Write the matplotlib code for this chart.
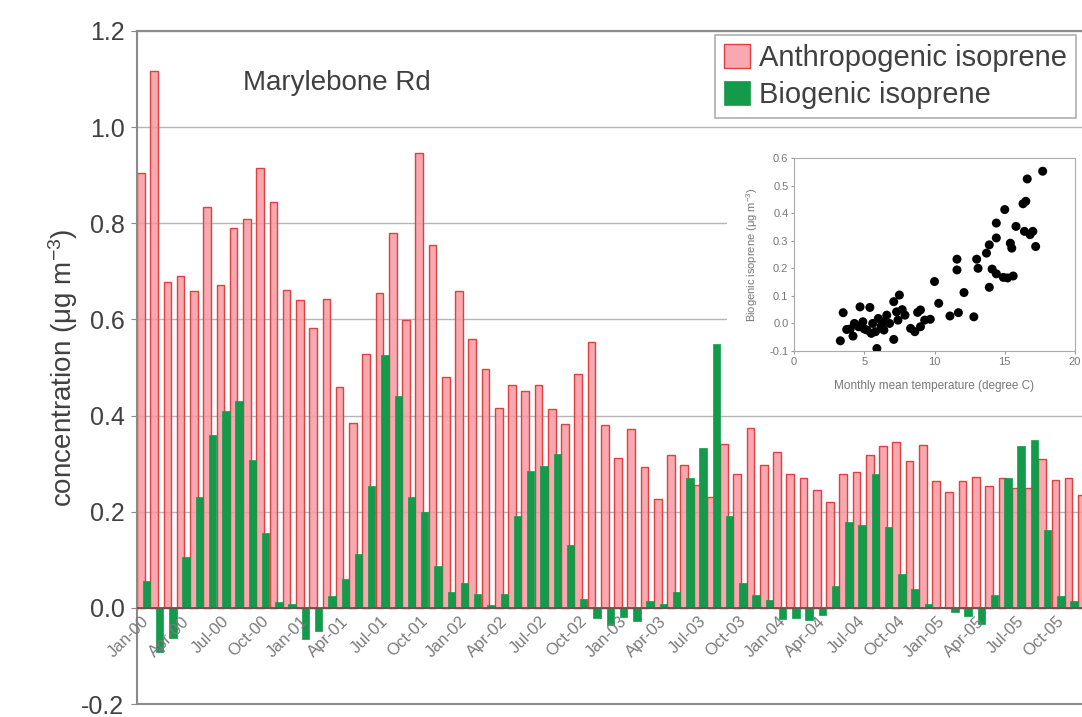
import numpy as np
import matplotlib.pyplot as plt
from matplotlib.patches import Rectangle

plt.rcParams['font.family'] = ['Liberation Sans', 'DejaVu Sans']
plt.rcParams['axes.unicode_minus'] = False
plt.rcParams['mathtext.fontset'] = 'custom'
plt.rcParams['mathtext.rm'] = 'Liberation Sans'
plt.rcParams['mathtext.it'] = 'Liberation Sans:italic'

# monthly values Jan-00 .. Dec-05 (ug m-3)
anthro = [0.905, 1.117, 0.678, 0.690, 0.659, 0.834, 0.671, 0.790, 0.809, 0.915, 0.844, 0.662,
          0.640, 0.583, 0.643, 0.460, 0.384, 0.529, 0.654, 0.780, 0.598, 0.946, 0.755, 0.480,
          0.660, 0.560, 0.496, 0.415, 0.463, 0.451, 0.464, 0.413, 0.382, 0.486, 0.553, 0.380,
          0.311, 0.373, 0.292, 0.227, 0.318, 0.297, 0.255, 0.230, 0.340, 0.278, 0.375, 0.297,
          0.325, 0.278, 0.270, 0.245, 0.221, 0.278, 0.282, 0.318, 0.336, 0.344, 0.306, 0.339,
          0.263, 0.240, 0.263, 0.273, 0.254, 0.270, 0.250, 0.250, 0.310, 0.266, 0.270, 0.235]
biogenic = [0.055, -0.092, -0.062, 0.105, 0.230, 0.360, 0.409, 0.431, 0.308, 0.155, 0.012, 0.008,
            -0.065, -0.049, 0.024, 0.060, 0.112, 0.254, 0.526, 0.440, 0.230, 0.200, 0.088, 0.033,
            0.052, 0.028, 0.005, 0.029, 0.192, 0.285, 0.295, 0.320, 0.131, 0.019, -0.021, -0.035,
            -0.018, -0.027, 0.014, 0.009, 0.033, 0.270, 0.332, 0.548, 0.192, 0.052, 0.027, 0.017,
            -0.024, -0.021, -0.026, -0.014, 0.045, 0.178, 0.172, 0.278, 0.169, 0.071, 0.039, 0.008,
            0.002, -0.009, -0.016, -0.033, 0.027, 0.270, 0.336, 0.349, 0.162, 0.024, 0.014, 0.010]
month_labels = ['Jan-00', 'Apr-00', 'Jul-00', 'Oct-00', 'Jan-01', 'Apr-01', 'Jul-01', 'Oct-01',
                'Jan-02', 'Apr-02', 'Jul-02', 'Oct-02', 'Jan-03', 'Apr-03', 'Jul-03', 'Oct-03',
                'Jan-04', 'Apr-04', 'Jul-04', 'Oct-04', 'Jan-05', 'Apr-05', 'Jul-05', 'Oct-05']

# inset: monthly mean temperature vs biogenic isoprene
temp = [3.3, 3.5, 3.75, 4.2, 4.7, 5.4, 4.3, 4.6, 4.9, 5.2, 5.5, 5.9, 5.6, 6.0, 6.4, 6.4,
        6.6, 6.8, 7.1, 7.1, 7.3, 7.5, 7.4, 7.9, 8.3, 8.6, 9.0, 9.0, 9.3, 9.7, 10.0, 10.3,
        11.1, 11.7, 11.6, 11.6, 12.1, 12.8, 13.0, 13.1, 13.7, 13.9, 13.9, 14.1, 14.4, 14.4,
        14.4, 14.9, 15.0, 15.4, 15.5, 15.6, 15.8, 16.3, 16.5, 16.6, 16.4, 16.8, 17.0, 17.2,
        17.7, 5.0, 5.8, 6.2, 4.0, 7.7, 8.8, 15.2]
bio_t = [-0.063, 0.039, -0.022, -0.046, 0.060, 0.058, 0.000, -0.012, 0.006, -0.024, -0.036,
         -0.091, 0.000, 0.018, 0.006, -0.024, 0.030, 0.000, -0.058, 0.079, 0.042, 0.103, 0.012,
         0.030, -0.018, -0.030, 0.049, -0.012, 0.012, 0.015, 0.152, 0.073, 0.027, 0.039, 0.194,
         0.233, 0.112, 0.024, 0.233, 0.200, 0.255, 0.285, 0.131, 0.197, 0.310, 0.364, 0.180,
         0.167, 0.413, 0.291, 0.273, 0.172, 0.352, 0.434, 0.443, 0.524, 0.334, 0.322, 0.334,
         0.279, 0.552, -0.020, -0.030, -0.010, -0.020, 0.050, 0.040, 0.165]

fig = plt.figure(figsize=(10.82, 7.17), dpi=100)
# frame from y=31 (1.2) to y=704 (-0.2) in pixels
ax = fig.add_axes([137 / 1082, 13 / 717, 945 / 1082, 673 / 717])

x = np.arange(len(anthro))
ax.bar(x - 0.21, anthro, width=0.58, facecolor=(0.97, 0.6, 0.63, 0.85),
       edgecolor='#e0403f', linewidth=1, zorder=2, label='Anthropogenic isoprene')
ax.bar(x + 0.21, biogenic, width=0.56, color='#139a4a', edgecolor='#139a4a',
       linewidth=0.5, zorder=3, label='Biogenic isoprene')

ax.set_xlim(-0.5, 70.8)
ax.set_ylim(-0.2, 1.2)
ax.set_yticks(np.arange(-0.2, 1.21, 0.2))
ax.yaxis.set_major_formatter(plt.FormatStrFormatter('%.1f'))
ax.set_xticks([])
ax.tick_params(axis='y', labelsize=18, labelcolor='#404040', color='#888888', length=4, pad=5)
ax.grid(axis='y', color='#b5b5b5', linewidth=1, zorder=1)
ax.set_axisbelow(True)
ax.axhline(0, color='#6e4f4f', linewidth=1.3, zorder=4)
for s in ['left', 'top', 'bottom']:
    ax.spines[s].set_color('#8a8a8a')
    ax.spines[s].set_linewidth(1.5)
ax.spines['right'].set_visible(False)

for k, lab in enumerate(month_labels):
    ax.text(3 * k - 0.15, -0.012, lab, rotation=45, ha='right', va='top',
            rotation_mode='anchor', fontsize=12, color='#7a7a7a')

ax.set_ylabel('concentration (μg m$^{-3}$)', fontsize=20, color='#404040', labelpad=1)
ax.text(0.112, 0.923, 'Marylebone Rd', transform=ax.transAxes, fontsize=20,
        color='#404040', va='center')

leg = ax.legend(loc='upper left', bbox_to_anchor=((715 - 137) / 945, (704 - 35) / 673),
                fontsize=21, frameon=True, fancybox=False, edgecolor='#999999',
                borderaxespad=0, handlelength=0.9, handleheight=0.9, handletextpad=0.3,
                labelspacing=0.3, borderpad=0.3)
leg.get_frame().set_linewidth(1.2)
for t in leg.get_texts():
    t.set_color('#404040')

# white panel behind the inset
ax.add_patch(Rectangle((0.624, 0.436), 0.376, 0.4, transform=ax.transAxes,
                       facecolor='white', edgecolor='none', zorder=4.5, clip_on=False))

ins = fig.add_axes([794 / 1082, 1 - 351 / 717, 281 / 1082, 193 / 717])
ins.scatter(temp, bio_t, s=42, c='black', edgecolors='none', zorder=3)
ins.set_xlim(0, 20)
ins.set_ylim(-0.1, 0.6)
ins.set_xticks([0, 5, 10, 15, 20])
ins.set_yticks(np.arange(-0.1, 0.61, 0.1))
ins.yaxis.set_major_formatter(plt.FormatStrFormatter('%.1f'))
ins.tick_params(labelsize=8, labelcolor='#777777', color='#999999', length=2, pad=2)
for s in ins.spines.values():
    s.set_color('#aaaaaa')
    s.set_linewidth(0.8)
ins.set_xlabel('Monthly mean temperature (degree C)', fontsize=8.5, color='#777777', labelpad=10)
ins.set_ylabel('Biogenic isoprene (μg m$^{-3}$)', fontsize=8, color='#777777', labelpad=7)

fig.savefig('out.png', dpi=100)
